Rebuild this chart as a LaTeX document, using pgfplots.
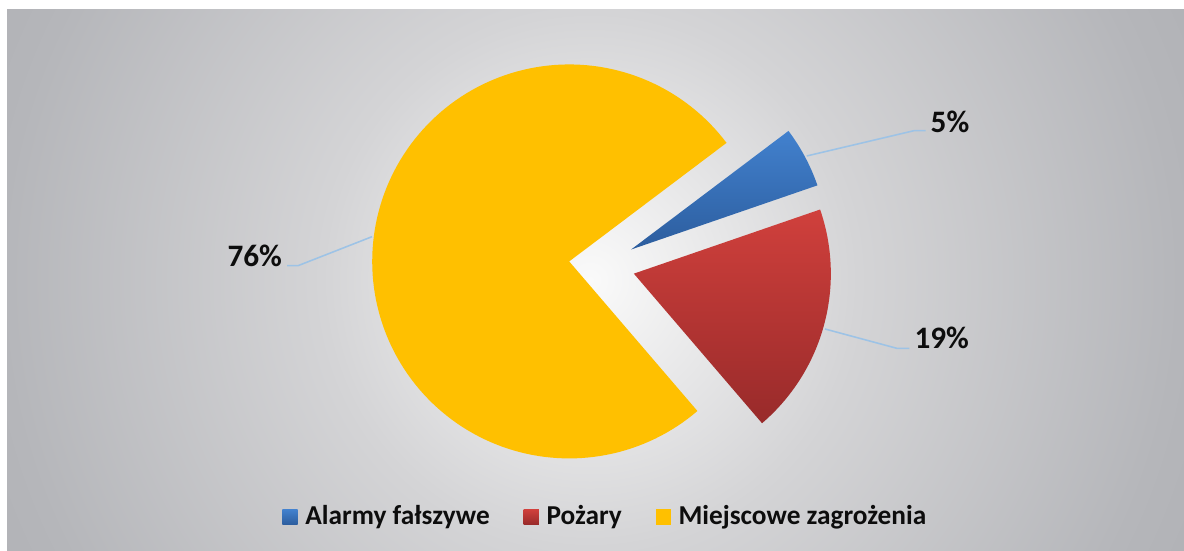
\documentclass[border=0pt]{standalone}
\usepackage{fontspec}
\setmainfont{Carlito}
\usepackage{pgfplots}
\usepackage{pgfplotstable}
\pgfplotsset{compat=1.18}

\definecolor{bgc}{RGB}{250,250,250}
\definecolor{bgm}{RGB}{212,212,214}
\definecolor{bge}{RGB}{181,182,186}
\definecolor{bgo}{RGB}{177,178,182}
\definecolor{blueT}{RGB}{66,129,206}
\definecolor{blueB}{RGB}{44,93,158}
\definecolor{redT}{RGB}{208,64,60}
\definecolor{redB}{RGB}{152,42,42}
\definecolor{pieyel}{RGB}{255,192,0}
\definecolor{leader}{RGB}{157,195,230}
\definecolor{txt}{RGB}{13,13,13}

\pgfdeclareradialshading{bgshade}{\pgfpoint{0bp}{0bp}}{color(0bp)=(bgc); color(10bp)=(bgm); color(22bp)=(bge); color(25bp)=(bgo); color(50bp)=(bgo)}

% share of each category, percent
\pgfplotstableread{
cat pct
Alarmy 5
Pozary 19
Miejscowe 76
}\piedata

\begin{document}
\begin{tikzpicture}
% background (1 px = 16cm/1184)
\fill[white] (0,0) rectangle (16,7.4459);
\begin{scope}
\clip (0.0946,0) rectangle (16,7.3108);
\shade[shading=bgshade] (7.973,3.662) circle (9.054);
\end{scope}

\pgfplotstablegetelem{0}{pct}\of\piedata \let\pA\pgfplotsretval
\pgfplotstablegetelem{1}{pct}\of\piedata \let\pB\pgfplotsretval
\pgfplotstablegetelem{2}{pct}\of\piedata \let\pC\pgfplotsretval
% pie centre, radius, explosion (pixel units), first slice angle
\def\cx{602}\def\cy{286}\def\R{197}\def\ex{33}
\pgfmathsetmacro\aS{37}
\pgfmathsetmacro\aA{\aS-3.6*\pA}
\pgfmathsetmacro\aB{\aA-3.6*\pB}
\pgfmathsetmacro\aC{\aB-3.6*\pC}
\pgfmathsetmacro\xA{\cx+\ex*cos((\aS+\aA)/2)}\pgfmathsetmacro\yA{\cy+\ex*sin((\aS+\aA)/2)}
\pgfmathsetmacro\xB{\cx+\ex*cos((\aA+\aB)/2)}\pgfmathsetmacro\yB{\cy+\ex*sin((\aA+\aB)/2)}
\pgfmathsetmacro\xC{\cx+\ex*cos((\aB+\aC)/2)}\pgfmathsetmacro\yC{\cy+\ex*sin((\aB+\aC)/2)}

\begin{axis}[
    at={(0,0)}, anchor=south west,
    scale only axis, width=16cm, height=7.4459cm,
    xmin=0, xmax=1184, ymin=0, ymax=551,
    hide axis, clip=false,
    legend image code/.code={\path[#1] (0pt,-2.9pt) rectangle (5.8pt,2.9pt);},
    legend style={at={(axis cs:607,34)}, anchor=center, draw=none, fill=none,
        font=\bfseries\fontsize{10.5}{12}\selectfont, text=txt,
        legend columns=3,
        /tikz/every odd column/.append style={column sep=1pt},
        /tikz/every even column/.append style={column sep=11pt}},
]
\addplot[draw=none, top color=blueT, bottom color=blueB, domain=\aA:\aS, samples=20]
    ({\xA+\R*cos(x)}, {\yA+\R*sin(x)}) -- (axis cs:\xA,\yA) -- cycle;
\addlegendentry{Alarmy fałszywe}
\addplot[draw=none, top color=redT, bottom color=redB, domain=\aB:\aA, samples=50]
    ({\xB+\R*cos(x)}, {\yB+\R*sin(x)}) -- (axis cs:\xB,\yB) -- cycle;
\addlegendentry{Pożary}
\addplot[draw=none, fill=pieyel, domain=\aC:\aB, samples=150]
    ({\xC+\R*cos(x)}, {\yC+\R*sin(x)}) -- (axis cs:\xC,\yC) -- cycle;
\addlegendentry{Miejscowe zagrożenia}

% leader lines and data labels
\draw[leader, line width=0.6pt] (axis cs:287,285.3) -- (axis cs:298,285.3) -- (axis cs:372,314.3);
\draw[leader, line width=0.6pt] (axis cs:925.7,420.3) -- (axis cs:914,420.3) -- (axis cs:806.7,395);
\draw[leader, line width=0.6pt] (axis cs:909.3,202.7) -- (axis cs:896.7,202.7) -- (axis cs:825,222);
\node[font=\bfseries\fontsize{12}{14}\selectfont, text=txt] at (axis cs:254.7,295) {76\%};
\node[font=\bfseries\fontsize{12}{14}\selectfont, text=txt] at (axis cs:950,429) {5\%};
\node[font=\bfseries\fontsize{12}{14}\selectfont, text=txt] at (axis cs:941.7,213) {19\%};
\end{axis}
\end{tikzpicture}
\end{document}
